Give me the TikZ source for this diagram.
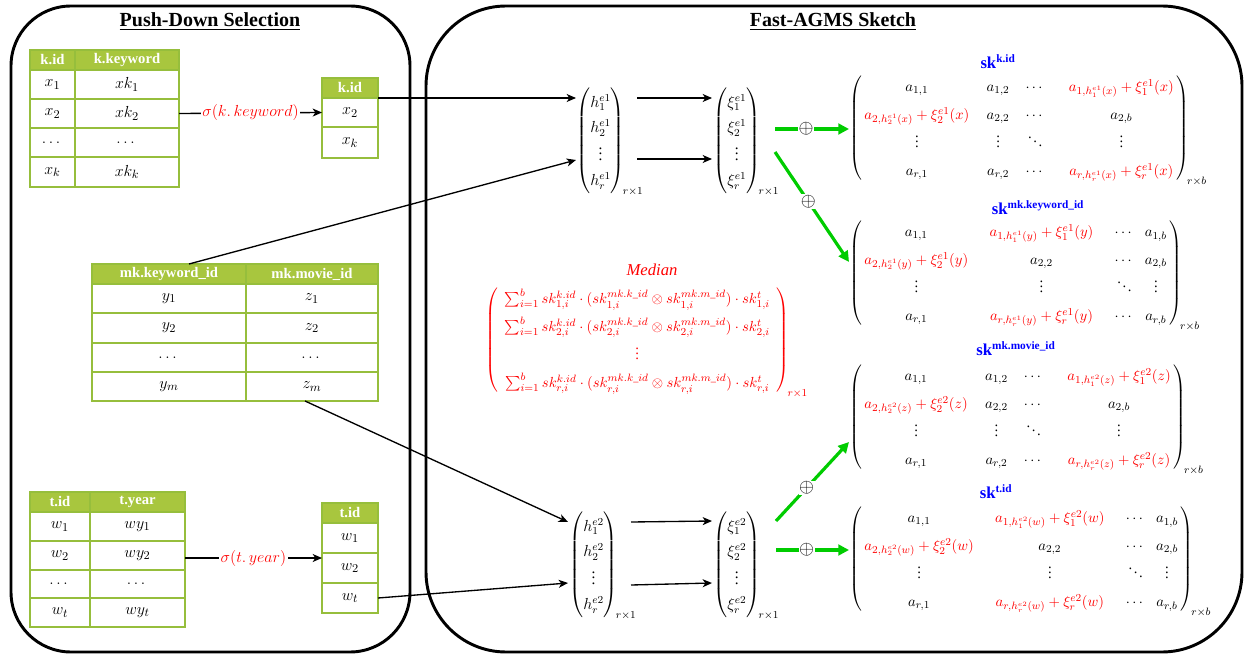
\documentclass[tikz,border=0pt]{standalone}
\usepackage{amsmath}
\usepackage{fontspec}
\setmainfont{Liberation Serif}
\usetikzlibrary{arrows.meta}
\definecolor{tgreen}{RGB}{150,190,60}
\definecolor{hgreen}{RGB}{168,198,62}
\definecolor{agreen}{RGB}{0,204,0}
\definecolor{myred}{RGB}{255,0,0}
\definecolor{myblue}{RGB}{0,0,255}
\newcommand\R[1]{{\color{myred}#1}}
\tikzset{
  cellbox/.style={draw=tgreen,line width=0.8pt,inner sep=0pt,outer sep=0pt,font=\fontsize{12.5}{14}\selectfont},
  hcellbox/.style={cellbox,fill=hgreen,text=white,font=\fontsize{11}{13}\selectfont\bfseries},
  panel/.style={draw=black,line width=2.2pt},
  arr/.style={-{Stealth[length=7pt,width=6pt,inset=2pt]},line width=1pt},
  garr/.style={-{Triangle[length=8pt,width=8pt]},draw=agreen,line width=2.4pt},
  oplusnode/.style={fill=white,inner sep=0.5pt,text=black,font=\fontsize{14}{16}\selectfont},
  vec/.style={inner sep=0pt,font=\fontsize{11.5}{13.5}\selectfont},
  mat/.style={inner sep=0pt,font=\fontsize{11}{13}\selectfont},
  sklab/.style={text=myblue,font=\fontsize{12.5}{14}\selectfont\bfseries,inner sep=0pt},
  sellab/.style={fill=white,inner sep=1pt,text=myred,font=\fontsize{12}{14}\selectfont},
}
\newcommand\cell[6]{\node[cellbox,minimum width={(#4-#2)*0.75pt},minimum height={(#5-#3)*0.75pt}] (#1) at ({(#2+#4)/2},{(#3+#5)/2}) {#6};}
\newcommand\hcell[6]{\node[hcellbox,minimum width={(#4-#2)*0.75pt},minimum height={(#5-#3)*0.75pt}] (#1) at ({(#2+#4)/2},{(#3+#5)/2}) {#6};}
\begin{document}
\begin{tikzpicture}[x=0.75pt,y=-0.75pt]
\useasboundingbox (0,0) rectangle (1246,656);
% panels
\draw[panel,rounded corners=45] (11,6) rectangle (410,652);
\draw[panel,rounded corners=60] (426,6) rectangle (1242,652);
\node[font=\fontsize{15}{17}\selectfont\bfseries] (t1) at (210,22) {\underline{Push-Down Selection}};
\node[font=\fontsize{15}{17}\selectfont\bfseries] (t2) at (833,22) {\underline{Fast-AGMS Sketch}};

% table k
\hcell{kh1}{30}{50}{75}{70}{k.id}
\hcell{kh2}{75}{50}{179}{70}{k.keyword}
\cell{k11}{30}{70}{75}{99}{$x_1$}
\cell{k12}{75}{70}{179}{99}{$xk_1$}
\cell{k21}{30}{99}{75}{128}{$x_2$}
\cell{k22}{75}{99}{179}{128}{$xk_2$}
\cell{k31}{30}{128}{75}{157}{$\dots$}
\cell{k32}{75}{128}{179}{157}{$\dots$}
\cell{k41}{30}{157}{75}{187}{$x_k$}
\cell{k42}{75}{157}{179}{187}{$xk_k$}
% selected k
\hcell{ksh}{322}{78}{378}{98}{k.id}
\cell{ks1}{322}{98}{378}{127}{$x_2$}
\cell{ks2}{322}{127}{378}{158}{$x_k$}

% table mk
\hcell{mh1}{92}{264}{246}{284}{mk.keyword\_id}
\hcell{mh2}{246}{264}{378}{284}{mk.movie\_id}
\cell{m11}{92}{284}{246}{313}{$y_1$}
\cell{m12}{246}{284}{378}{313}{$z_1$}
\cell{m21}{92}{313}{246}{343}{$y_2$}
\cell{m22}{246}{313}{378}{343}{$z_2$}
\cell{m31}{92}{343}{246}{372}{$\dots$}
\cell{m32}{246}{343}{378}{372}{$\dots$}
\cell{m41}{92}{372}{246}{401}{$y_m$}
\cell{m42}{246}{372}{378}{401}{$z_m$}

% table t
\hcell{th1}{30}{492}{90}{512}{t.id}
\hcell{th2}{90}{492}{185}{512}{t.year}
\cell{t11}{30}{512}{90}{541}{$w_1$}
\cell{t12}{90}{512}{185}{541}{$wy_1$}
\cell{t21}{30}{541}{90}{570}{$w_2$}
\cell{t22}{90}{541}{185}{570}{$wy_2$}
\cell{t31}{30}{570}{90}{598}{$\dots$}
\cell{t32}{90}{570}{185}{598}{$\dots$}
\cell{t41}{30}{598}{90}{627}{$w_t$}
\cell{t42}{90}{598}{185}{627}{$wy_t$}
% selected t
\hcell{tsh}{322}{503}{378}{523}{t.id}
\cell{ts1}{322}{523}{378}{553}{$w_1$}
\cell{ts2}{322}{553}{378}{583}{$w_2$}
\cell{ts3}{322}{583}{378}{613}{$w_t$}

% selections
\draw[arr] (k22.east) -- node[sellab]{$\sigma(k.\,keyword)$} (ks1.west);
\coordinate (tsel) at (322,558);
\draw[arr] (185,558) coordinate (tstart) -- node[sellab]{$\sigma(t.\,year)$} (tsel);

% vectors
\renewcommand\arraystretch{1.4}
\node[vec,anchor=west] (he1) at (576,142) {$\begin{pmatrix} h_1^{e1}\\ h_2^{e1}\\ \vdots\\ h_r^{e1}\end{pmatrix}_{\!r\times1}$};
\node[vec,anchor=west] (xe1) at (713,142) {$\begin{pmatrix} \xi_1^{e1}\\ \xi_2^{e1}\\ \vdots\\ \xi_r^{e1}\end{pmatrix}_{\!r\times1}$};
\node[vec,anchor=west] (he2) at (569,566) {$\begin{pmatrix} h_1^{e2}\\ h_2^{e2}\\ \vdots\\ h_r^{e2}\end{pmatrix}_{\!r\times1}$};
\node[vec,anchor=west] (xe2) at (713,566) {$\begin{pmatrix} \xi_1^{e2}\\ \xi_2^{e2}\\ \vdots\\ \xi_r^{e2}\end{pmatrix}_{\!r\times1}$};

% input arrows
\coordinate (h1a) at (576,98);
\coordinate (h1b) at (576,160);
\coordinate (h2a) at (568,522);
\coordinate (h2b) at (568,583);
\draw[arr] (ksh.south east) -- (h1a);
\draw[arr] (mh1.north) ++(20,0) coordinate (mtop) -- (h1b);
\draw[arr] (m42.south) ++(-7,0) coordinate (mbot) -- (h2a);
\draw[arr] (ts3.east) -- (h2b);

% h -> xi arrows
\coordinate (a1s) at (637,98);  \coordinate (a1e) at (712,98);
\coordinate (a2s) at (637,159); \coordinate (a2e) at (712,159);
\coordinate (a3s) at (631,522); \coordinate (a3e) at (712,521);
\coordinate (a4s) at (631,585); \coordinate (a4e) at (712,583);
\draw[arr] (a1s) -- (a1e);
\draw[arr] (a2s) -- (a2e);
\draw[arr] (a3s) -- (a3e);
\draw[arr] (a4s) -- (a4e);

% sketches
\renewcommand\arraystretch{1.6}
\node[sklab] (l1) at (998,62) {sk$^{\textbf{\fontsize{8.5}{10}\selectfont k.id}}$};
\node[mat,anchor=west] (sk1) at (849,129) {$\left(\begin{array}{@{\,}c@{\hspace{13pt}}c@{\hspace{12pt}}c@{\hspace{18pt}}c@{\,}}
a_{1,1} & a_{1,2} & \cdots & \R{a_{1,h_1^{e1}(x)}+\xi_1^{e1}(x)}\\
\R{a_{2,h_2^{e1}(x)}+\xi_2^{e1}(x)} & a_{2,2} & \cdots & a_{2,b}\\
\vdots & \vdots & \ddots & \vdots\\
a_{r,1} & a_{r,2} & \cdots & \R{a_{r,h_r^{e1}(x)}+\xi_r^{e1}(x)}
\end{array}\right)_{\!r\times b}$};

\node[sklab] (l2) at (1038,208) {sk$^{\textbf{\fontsize{8.5}{10}\selectfont mk.keyword\_id}}$};
\node[mat,anchor=west] (sk2) at (849,274) {$\left(\begin{array}{@{\,}c@{\hspace{16pt}}c@{\hspace{16pt}}c@{\hspace{8pt}}c@{\,}}
a_{1,1} & \R{a_{1,h_1^{e1}(y)}+\xi_1^{e1}(y)} & \cdots & a_{1,b}\\
\R{a_{2,h_2^{e1}(y)}+\xi_2^{e1}(y)} & a_{2,2} & \cdots & a_{2,b}\\
\vdots & \vdots & \ddots & \vdots\\
a_{r,1} & \R{a_{r,h_r^{e1}(y)}+\xi_r^{e1}(y)} & \cdots & a_{r,b}
\end{array}\right)_{\!r\times b}$};

\node[sklab] (l3) at (1016,349) {sk$^{\textbf{\fontsize{8.5}{10}\selectfont mk.movie\_id}}$};
\node[mat,anchor=west] (sk3) at (849,418) {$\left(\begin{array}{@{\,}c@{\hspace{13pt}}c@{\hspace{12pt}}c@{\hspace{18pt}}c@{\,}}
a_{1,1} & a_{1,2} & \cdots & \R{a_{1,h_1^{e2}(z)}+\xi_1^{e2}(z)}\\
\R{a_{2,h_2^{e2}(z)}+\xi_2^{e2}(z)} & a_{2,2} & \cdots & a_{2,b}\\
\vdots & \vdots & \ddots & \vdots\\
a_{r,1} & a_{r,2} & \cdots & \R{a_{r,h_r^{e2}(z)}+\xi_r^{e2}(z)}
\end{array}\right)_{\!r\times b}$};

\node[sklab] (l4) at (996,492) {sk$^{\textbf{\fontsize{8.5}{10}\selectfont t.id}}$};
\node[mat,anchor=west] (sk4) at (849,560) {$\left(\begin{array}{@{\,}c@{\hspace{16pt}}c@{\hspace{16pt}}c@{\hspace{8pt}}c@{\,}}
a_{1,1} & \R{a_{1,h_1^{e2}(w)}+\xi_1^{e2}(w)} & \cdots & a_{1,b}\\
\R{a_{2,h_2^{e2}(w)}+\xi_2^{e2}(w)} & a_{2,2} & \cdots & a_{2,b}\\
\vdots & \vdots & \ddots & \vdots\\
a_{r,1} & \R{a_{r,h_r^{e2}(w)}+\xi_r^{e2}(w)} & \cdots & a_{r,b}
\end{array}\right)_{\!r\times b}$};

% green arrows
\coordinate (g1s) at (775,129); \coordinate (g2s) at (775,152);
\coordinate (g3s) at (776,521); \coordinate (g4s) at (776,550);
\draw[garr] (g1s) -- node[oplusnode,pos=0.42]{$\oplus$} (sk1.west|-g1s);
\draw[garr] (g2s) -- node[oplusnode,pos=0.45]{$\oplus$} (849,262);
\draw[garr] (g3s) -- node[oplusnode,pos=0.42]{$\oplus$} (849,442);
\draw[garr] (g4s) -- node[oplusnode,pos=0.42]{$\oplus$} (sk4.west|-g4s);

% median
\node[text=myred,font=\fontsize{12.5}{14}\selectfont\itshape] (med) at (652,270) {Median};
\renewcommand\arraystretch{1.6}
\node[mat,anchor=west,text=myred] (mv) at (485,341) {$\left(\begin{array}{c}
\sum_{i=1}^{b} sk_{1,i}^{k.id}\cdot(sk_{1,i}^{mk.k\_id}\otimes sk_{1,i}^{mk.m\_id})\cdot sk_{1,i}^{t}\\
\sum_{i=1}^{b} sk_{2,i}^{k.id}\cdot(sk_{2,i}^{mk.k\_id}\otimes sk_{2,i}^{mk.m\_id})\cdot sk_{2,i}^{t}\\
\vdots\\
\sum_{i=1}^{b} sk_{r,i}^{k.id}\cdot(sk_{r,i}^{mk.k\_id}\otimes sk_{r,i}^{mk.m\_id})\cdot sk_{r,i}^{t}
\end{array}\right)_{\!r\times1}$};
\end{tikzpicture}
\end{document}
